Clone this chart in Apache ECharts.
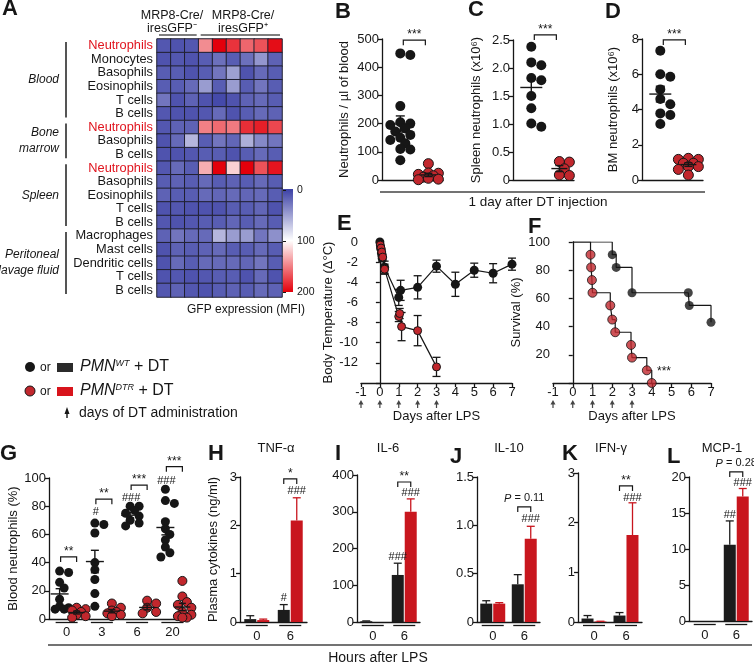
<!DOCTYPE html>
<html>
<head>
<meta charset="utf-8">
<title>Neutrophil depletion figure</title>
<script src="https://cdn.jsdelivr.net/npm/echarts@6/dist/echarts.min.js"></script>
<style>
html,body{margin:0;padding:0;background:#ffffff;}
#chart{width:754px;height:664px;}
</style>
</head>
<body>
<div id="chart"></div>
<script>
// ================= DATA =================
// Panel A heatmap (GFP MFI)
const heatColumns = ['GFP- 1','GFP- 2','GFP- 3','GFP+ 1','GFP+ 2','GFP+ 3','GFP+ 4','GFP+ 5','GFP+ 6'];
const heatRows = ['Neutrophils','Monocytes','Basophils','Eosinophils','T cells','B cells',
  'Neutrophils','Basophils','B cells',
  'Neutrophils','Basophils','Eosinophils','T cells','B cells',
  'Macrophages','Mast cells','Dendritic cells','T cells','B cells'];
const heatValues = [
  [12, 10, 12, 145, 200, 180, 160, 168, 195],
  [10, 12, 10, 15, 25, 15, 25, 45, 18],
  [15, 15, 10, 15, 28, 50, 10, 22, 15],
  [15, 15, 22, 48, 15, 48, 15, 28, 15],
  [28, 10, 18, 10, 5, 10, 18, 22, 15],
  [12, 10, 10, 12, 22, 10, 15, 22, 18],
  [12, 18, 18, 150, 158, 152, 182, 188, 172],
  [10, 22, 62, 15, 28, 20, 58, 38, 28],
  [10, 10, 12, 15, 15, 10, 15, 22, 15],
  [12, 22, 15, 132, 200, 118, 200, 168, 192],
  [15, 18, 15, 22, 15, 18, 15, 22, 15],
  [18, 15, 15, 22, 20, 22, 20, 22, 15],
  [10, 12, 10, 10, 10, 15, 15, 20, 10],
  [12, 10, 12, 15, 15, 20, 15, 22, 15],
  [18, 28, 22, 22, 62, 48, 48, 28, 42],
  [10, 18, 15, 18, 22, 15, 15, 22, 15],
  [10, 22, 15, 22, 22, 22, 20, 28, 15],
  [10, 12, 10, 12, 15, 15, 10, 22, 10],
  [12, 18, 12, 10, 15, 18, 15, 22, 18]
];
const tissues = [
  {label: 'Blood', from: 0, to: 6},
  {label: 'Bone\nmarrow', from: 6, to: 9},
  {label: 'Spleen', from: 9, to: 14},
  {label: 'Peritoneal\nlavage fluid', from: 14, to: 19}
];
const headerGroups = [
  {lines: 'MRP8-Cre/\niresGFP⁻', from: 0, to: 3},
  {lines: 'MRP8-Cre/\niresGFP⁺', from: 3, to: 9}
];
const colorbarTicks = [0, 100, 200];

// Panels B-D (1 day after DT)
const B_WT  = [449, 443, 262, 205, 200, 195, 183, 172, 160, 150, 142, 130, 110, 108, 70];
const B_DTR = [58, 25, 24, 20, 15, 10, 6, 3, 1];
const C_WT  = [2.38, 2.1, 2.05, 1.82, 1.78, 1.5, 1.28, 0.95, 1.01];
const C_DTR = [0.33, 0.32, 0.2, 0.09, 0.08];
const D_WT  = [7.33, 6.0, 5.86, 5.14, 4.6, 3.78, 3.69, 3.18, 4.3];
const D_DTR = [1.23, 1.17, 1.17, 0.95, 0.95, 0.76, 0.76, 0.6, 0.28];

// Panel E body temperature
const E_WT_day  = [0, 0.04, 0.08, 0.12, 0.25, 1, 1.1, 2, 3, 4, 5, 6, 7];
const E_WT_temp = [0, -0.6, -1.1, -1.6, -2.5, -5.5, -4.8, -4.5, -2.4, -4.2, -2.8, -3.1, -2.2];
const E_WT_sem  = [0, 0.2, 0.3, 0.3, 0.6, 0.8, 1.0, 1.15, 0.6, 1.2, 0.7, 0.95, 0.6];
const E_DTR_day  = [0.02, 0.06, 0.1, 0.15, 0.25, 1, 1.05, 1.15, 2, 3];
const E_DTR_temp = [-0.3, -0.6, -1.0, -1.5, -2.7, -7.4, -7.1, -8.4, -8.8, -12.4];
const E_DTR_sem  = [0.1, 0.2, 0.3, 0.3, 0.5, 0.5, 0.5, 1.4, 1.5, 0.95];
const DT_days = [-1, 0, 1, 2, 3];

// Panel F survival (Kaplan-Meier steps)
const F_WT_t  = [0, 2, 2.2, 3, 5.85, 5.9, 7];
const F_WT_s  = [100, 91, 82, 64, 64, 55, 43];
const F_DTR_t = [0, 0.9, 0.93, 0.97, 1.0, 1.9, 2.0, 2.15, 2.95, 3.0, 3.75, 4.0];
const F_DTR_s = [100, 91, 82, 73, 64, 55, 45, 36, 27, 18, 9, 0];

// Panel G blood neutrophils (%)
const G_hours = ['0', '3', '6', '20'];
const G_WT  = [[34, 33, 26, 22, 14, 9, 8, 7, 7], [67, 68, 61, 40, 35, 28, 18, 9], [80, 80, 77, 75, 73, 70, 68, 66], [92, 82, 84, 69, 64, 60, 56, 51, 47, 44]];
const G_DTR = [[8, 7, 6, 5, 3, 2, 1], [11, 8, 6, 5, 4, 3, 2], [13, 11, 8, 5, 4], [27, 16, 12, 10, 8, 5, 3, 2, 1, 1]];

// Panels H-L plasma cytokines (mean, SEM)
const cytoHours = ['0', '6'];
const TNF_WT = [0.06, 0.25],  TNF_WT_err = [0.07, 0.11],  TNF_DTR = [0.04, 2.1],  TNF_DTR_err = [0.02, 0.47];
const IL6_WT = [2, 128],      IL6_WT_err = [1, 32],        IL6_DTR = [0, 300],     IL6_DTR_err = [0, 35];
const IL10_WT = [0.19, 0.39], IL10_WT_err = [0.03, 0.1],   IL10_DTR = [0.19, 0.86], IL10_DTR_err = [0.01, 0.13];
const IFN_WT = [0.07, 0.13],  IFN_WT_err = [0.06, 0.06],   IFN_DTR = [0.01, 1.75], IFN_DTR_err = [0.005, 0.65];
const MCP_WT = [0, 10.6],     MCP_WT_err = [0, 3.3],       MCP_DTR = [0, 17.3],    MCP_DTR_err = [0, 1.1];

// Significance annotations (labels)
const sigB = [{kind: 'br', g: 0, y: 496, text: '***'}];
const sigC = [{kind: 'br', g: 0, y: 2.59, text: '***'}];
const sigD = [{kind: 'br', g: 0, y: 7.95, text: '***'}];
const sigG = [
  {kind: 'br', g: 0, y: 44, text: '**'}, {kind: 'br', g: 1, y: 85, text: '**'},
  {kind: 'br', g: 2, y: 95, text: '***'}, {kind: 'br', g: 3, y: 108, text: '***'},
  {kind: 'tx', g: 1, side: 'wt', y: 76, text: '#'}, {kind: 'tx', g: 2, side: 'wt', y: 86, text: '###'},
  {kind: 'tx', g: 3, side: 'wt', y: 98, text: '###'}
];
const sigH = [{kind: 'br', g: 1, y: 2.96, text: '*'}, {kind: 'tx', g: 1, side: 'wt', y: 0.5, text: '#'}, {kind: 'tx', g: 1, side: 'dtr', y: 2.72, text: '###'}];
const sigI = [{kind: 'br', g: 1, y: 381, text: '**'}, {kind: 'tx', g: 1, side: 'wt', y: 177, text: '###'}, {kind: 'tx', g: 1, side: 'dtr', y: 350, text: '###'}];
const sigJ = [{kind: 'br', g: 1, y: 1.19, text: '{i|P} = 0.11', small: true}, {kind: 'tx', g: 1, side: 'dtr', y: 1.065, text: '###'}];
const sigK = [{kind: 'br', g: 1, y: 2.74, text: '**'}, {kind: 'tx', g: 1, side: 'dtr', y: 2.5, text: '###'}];
const sigL = [{kind: 'br', g: 1, y: 20.7, text: '{i|P} = 0.28', small: true}, {kind: 'tx', g: 1, side: 'wt', y: 14.7, text: '##'}, {kind: 'tx', g: 1, side: 'dtr', y: 19.2, text: '###'}];

// ================= STYLE / HELPERS =================
const FONT = "'Liberation Sans', Arial, Helvetica, sans-serif";
const INK = '#161616';
const BAR_BLACK = '#1c1c1c';
const BAR_RED = '#c8161e';
const DOT_RED = '#c1272d';
const HEAT_BLUE = '#3b40a5';
const HEAT_RED = '#e3000b';
const NEUT_RED = '#e0141e';

const chart = echarts.init(document.getElementById('chart'), null, {renderer: 'canvas'});

const grids = [], xAxes = [], yAxes = [], series = [], graphics = [];

function merge(a, b) {
  for (const k in b) {
    const v = b[k];
    if (v && typeof v === 'object' && !Array.isArray(v) && typeof v !== 'function' && a[k] && typeof a[k] === 'object') merge(a[k], v);
    else a[k] = v;
  }
  return a;
}
function baseAxis() {
  return {
    splitLine: {show: false},
    axisLine: {show: true, lineStyle: {color: INK, width: 1.3}},
    axisTick: {show: true, length: 4, lineStyle: {color: INK, width: 1.3}},
    axisLabel: {color: INK, fontSize: 13, fontFamily: FONT, margin: 3},
    nameTextStyle: {color: INK, fontSize: 13, fontFamily: FONT}
  };
}
function yAx(gi, o) { return merge(merge(baseAxis(), {gridIndex: gi, type: 'value', nameLocation: 'middle', nameRotate: 90}), o); }
function xAx(gi, o) { return merge(merge(baseAxis(), {gridIndex: gi}), o); }
function ln(x1, y1, x2, y2, st) { return {type: 'line', shape: {x1, y1, x2, y2}, style: st}; }

function meanSem(vals) {
  const n = vals.length;
  const m = vals.reduce((a, b) => a + b, 0) / n;
  const sd = Math.sqrt(vals.reduce((a, b) => a + (b - m) * (b - m), 0) / (n - 1));
  return [m, sd / Math.sqrt(n)];
}
// deterministic, bounded beeswarm offsets in pixels (overlap allowed when crowded)
function swarm(vals, pxPerUnit, minDist, step, maxK) {
  const order = vals.map((v, i) => i).sort((a, b) => vals[b] - vals[a]);
  const placed = [], off = vals.map(() => 0);
  order.forEach(i => {
    const py = vals[i] * pxPerUnit;
    let best = 0, bestScore = -1;
    for (let k = 0; k <= maxK; k++) {
      const dx = k === 0 ? 0 : (k % 2 ? 1 : -1) * Math.ceil(k / 2) * step;
      let dmin = Infinity;
      placed.forEach(p => { dmin = Math.min(dmin, Math.hypot(p.x - dx, p.y - py)); });
      if (dmin >= minDist) { best = dx; bestScore = dmin; break; }
      if (dmin > bestScore) { bestScore = dmin; best = dx; }
    }
    off[i] = best; placed.push({x: best, y: py});
  });
  return off;
}
function dotSeries(gi, x, vals, fill, size, pxPerUnit, baseOff, maxK) {
  const off = swarm(vals, pxPerUnit, size * 0.75, size * 0.5, maxK);
  return {
    type: 'scatter', xAxisIndex: gi, yAxisIndex: gi, z: 4, symbolSize: size, silent: true,
    itemStyle: {color: fill, borderColor: INK, borderWidth: fill === INK ? 0 : 1, opacity: 1},
    data: vals.map((v, i) => ({value: [x, v], symbolOffset: [baseOff + off[i], 0]}))
  };
}
function meanSemSeries(gi, x, vals, pxOff, meanW, capW) {
  const ms = meanSem(vals);
  return {
    type: 'custom', xAxisIndex: gi, yAxisIndex: gi, z: 6, silent: true, clip: false,
    data: [[x, ms[0], ms[1]]],
    renderItem: (p, api) => {
      const xv = api.value(0), m = api.value(1), s = api.value(2);
      const c = api.coord([xv, m]), t = api.coord([xv, m + s]), b = api.coord([xv, m - s]);
      const X = c[0] + pxOff, st = {stroke: INK, lineWidth: 1.4};
      return {type: 'group', children: [
        ln(X - meanW / 2, c[1], X + meanW / 2, c[1], st), ln(X, t[1], X, b[1], st),
        ln(X - capW / 2, t[1], X + capW / 2, t[1], st), ln(X - capW / 2, b[1], X + capW / 2, b[1], st)]};
    }
  };
}
function annotSeries(gi, items, posFn) {
  return {
    type: 'custom', xAxisIndex: gi, yAxisIndex: gi, z: 7, silent: true, clip: false,
    data: items.map((a, i) => [i, a.y]),
    renderItem: (p, api) => {
      const a = items[p.dataIndex];
      if (a.kind === 'br') {
        const w = posFn(a.g, 'wt'), d = posFn(a.g, 'dtr');
        const p1 = api.coord([w[0], a.y]), p2 = api.coord([d[0], a.y]);
        const x1 = p1[0] + w[1], x2 = p2[0] + d[1], y = p1[1];
        const st = {stroke: INK, lineWidth: 1.2, fill: null};
        return {type: 'group', children: [
          {type: 'polyline', shape: {points: [[x1, y + 5], [x1, y], [x2, y], [x2, y + 5]]}, style: st},
          {type: 'text', x: (x1 + x2) / 2, y: a.small ? y - 3 : y + 1, style: {
            text: a.text, fill: INK, font: (a.small ? '11px ' : '12px ') + FONT,
            align: 'center', verticalAlign: 'bottom',
            rich: {i: {fontStyle: 'italic', fontSize: 11, fontFamily: FONT, fill: INK}}}}
        ]};
      }
      const q = posFn(a.g, a.side);
      const c = api.coord([q[0], a.y]);
      return {type: 'text', x: c[0] + q[1], y: c[1], style: {
        text: a.text, fill: INK, font: '11px ' + FONT, align: 'center', verticalAlign: 'middle'}};
    }
  };
}
function underlineSeries(gi, nCat, yMin, halfW) {
  return {
    type: 'custom', xAxisIndex: gi, yAxisIndex: gi, z: 3, silent: true, clip: false,
    data: Array.from({length: nCat}, (_, i) => [i, yMin]),
    renderItem: (p, api) => {
      const c = api.coord([api.value(0), api.value(1)]);
      return ln(c[0] - halfW, c[1] + 3.5, c[0] + halfW, c[1] + 3.5, {stroke: INK, lineWidth: 1.3});
    }
  };
}
function errSeries(gi, xs, ys, es, color, capW) {
  return {
    type: 'custom', xAxisIndex: gi, yAxisIndex: gi, z: 3, silent: true, clip: false,
    data: xs.map((x, i) => [x, ys[i], es[i]]),
    renderItem: (p, api) => {
      const x = api.value(0), y = api.value(1), e = api.value(2);
      if (!e) return null;
      const t = api.coord([x, y + e]), b = api.coord([x, y - e]);
      const st = {stroke: color, lineWidth: 1.3};
      return {type: 'group', children: [
        ln(t[0], t[1], b[0], b[1], st),
        ln(t[0] - capW / 2, t[1], t[0] + capW / 2, t[1], st),
        ln(b[0] - capW / 2, b[1], b[0] + capW / 2, b[1], st)]};
    }
  };
}
function barErrSeries(gi, vals, errs, pxOff, color) {
  return {
    type: 'custom', xAxisIndex: gi, yAxisIndex: gi, z: 3, silent: true, clip: false,
    data: vals.map((v, i) => [i, v, errs[i]]),
    renderItem: (p, api) => {
      const i = api.value(0), v = api.value(1), e = api.value(2);
      if (!e) return null;
      const c = api.coord([i, v]), t = api.coord([i, v + e]);
      const X = c[0] + pxOff, st = {stroke: color, lineWidth: 1.3};
      return {type: 'group', children: [ln(X, c[1], X, t[1], st), ln(X - 4, t[1], X + 4, t[1], st)]};
    }
  };
}
function addGrid(r) { grids.push(Object.assign({containLabel: false}, r)); return grids.length - 1; }

// ================= PANEL A: HEATMAP =================
const RA = {left: 157, top: 39, width: 125, height: 258};
const gA = addGrid(RA);
xAxes.push({gridIndex: gA, type: 'category', data: heatColumns, show: false});
yAxes.push({gridIndex: gA, type: 'category', inverse: true, data: heatRows.map((r, i) => 'r' + i),
  axisLine: {show: false}, axisTick: {show: false}, splitLine: {show: false},
  axisLabel: {interval: 0, margin: 4, color: INK, fontSize: 12.8, fontFamily: FONT,
    formatter: (v, i) => heatRows[i] === 'Neutrophils' ? '{r|Neutrophils}' : heatRows[i],
    rich: {r: {color: NEUT_RED, fontSize: 12.8, fontFamily: FONT}}}});
const heatData = [];
heatValues.forEach((row, r) => row.forEach((v, c) => heatData.push([c, r, v])));
series.push({type: 'heatmap', xAxisIndex: gA, yAxisIndex: gA, data: heatData, silent: true,
  itemStyle: {borderColor: '#202030', borderWidth: 1}});

// colour bar axis
const RCB = {left: 283, top: 190, width: 10, height: 102};
const gCB = addGrid(RCB);
xAxes.push({gridIndex: gCB, type: 'value', show: false, min: 0, max: 1});
yAxes.push(yAx(gCB, {min: colorbarTicks[0], max: colorbarTicks[colorbarTicks.length - 1], interval: 100, inverse: true, position: 'right',
  axisLine: {show: false}, axisTick: {length: 3, lineStyle: {width: 1}}, axisLabel: {fontSize: 10.5, margin: 4}}));

// ================= PANELS B, C, D =================
const dotPanels = [
  {r: {left: 382, top: 39, width: 61, height: 141}, min: 0, max: 500, interval: 100, wt: B_WT, dtr: B_DTR, name: 'Neutrophils / µl of blood', gap: 31, fmt: v => v, sig: sigB},
  {r: {left: 513, top: 40, width: 61, height: 140}, min: 0, max: 2.5, interval: 0.5, wt: C_WT, dtr: C_DTR, name: 'Spleen neutrophils (x10⁶)', gap: 30, fmt: v => v === 0 ? '0' : v.toFixed(1), sig: sigC},
  {r: {left: 642, top: 39, width: 61, height: 141}, min: 0, max: 8, interval: 2, wt: D_WT, dtr: D_DTR, name: 'BM neutrophils (x10⁶)', gap: 22, fmt: v => v, sig: sigD}
];
const dotX = {wt: 0.3, dtr: 0.76};
dotPanels.forEach(P => {
  const gi = addGrid(P.r);
  xAxes.push(xAx(gi, {type: 'value', min: 0, max: 1, axisTick: {show: false}, axisLabel: {show: false}}));
  yAxes.push(yAx(gi, {min: P.min, max: P.max, interval: P.interval, name: P.name, nameGap: P.gap, axisLabel: {formatter: P.fmt}}));
  const ppu = P.r.height / (P.max - P.min);
  series.push(dotSeries(gi, dotX.wt, P.wt, INK, 10, ppu, 0, 6));
  series.push(dotSeries(gi, dotX.dtr, P.dtr, DOT_RED, 10, ppu, 0, 4));
  series.push(meanSemSeries(gi, dotX.wt, P.wt, 0, 22, 9));
  series.push(meanSemSeries(gi, dotX.dtr, P.dtr, 0, 16, 8));
  series.push(annotSeries(gi, P.sig, (g, side) => side === 'wt' ? [dotX.wt, 3] : [dotX.dtr, -3]));
});

// ================= PANEL E =================
const arrowPath = 'path://M5,0 L10,9 L6.2,9 L6.2,16 L3.8,16 L3.8,9 L0,9 Z';
const RE = {left: 361, top: 242, width: 151, height: 141};
const gE = addGrid(RE);
xAxes.push(xAx(gE, {type: 'value', min: -1, max: 7, interval: 1, axisLine: {onZero: false},
  name: 'Days after LPS', nameLocation: 'middle', nameGap: 27}));
yAxes.push(yAx(gE, {min: -14, max: 0, interval: 2, axisLine: {onZero: true}, name: 'Body Temperature (Δ°C)', nameGap: 26,
  axisLabel: {formatter: v => v === -14 ? '' : String(v)}}));
series.push(errSeries(gE, E_WT_day, E_WT_temp, E_WT_sem, INK, 8));
series.push(errSeries(gE, E_DTR_day, E_DTR_temp, E_DTR_sem, INK, 8));
series.push({type: 'line', xAxisIndex: gE, yAxisIndex: gE, z: 4, silent: true, data: E_WT_day.map((d, i) => [d, E_WT_temp[i]]),
  symbol: 'circle', symbolSize: 9, itemStyle: {color: INK}, lineStyle: {color: INK, width: 1.2}});
series.push({type: 'line', xAxisIndex: gE, yAxisIndex: gE, z: 5, silent: true, data: E_DTR_day.map((d, i) => [d, E_DTR_temp[i]]),
  symbol: 'circle', symbolSize: 8, itemStyle: {color: DOT_RED, borderColor: INK, borderWidth: 1}, lineStyle: {color: INK, width: 1.2}});
series.push({type: 'scatter', xAxisIndex: gE, yAxisIndex: gE, clip: false, silent: true, data: DT_days.map(d => [d, -14]),
  symbol: arrowPath, symbolSize: [5, 8], symbolOffset: [0, 21], itemStyle: {color: INK}});

// ================= PANEL F =================
const RF = {left: 553, top: 242, width: 158, height: 141};
const gF = addGrid(RF);
xAxes.push(xAx(gF, {type: 'value', min: -1, max: 7, interval: 1, axisLine: {onZero: false},
  name: 'Days after LPS', nameLocation: 'middle', nameGap: 27}));
yAxes.push(yAx(gF, {min: 0, max: 100, interval: 20, axisLine: {onZero: true}, name: 'Survival (%)', nameGap: 30,
  axisLabel: {formatter: v => v === 0 ? '' : String(v)}}));
series.push({type: 'line', step: 'end', xAxisIndex: gF, yAxisIndex: gF, z: 3, silent: true, showSymbol: false, symbol: 'none',
  data: F_WT_t.map((t, i) => [t, F_WT_s[i]]), lineStyle: {color: INK, width: 1.2}});
series.push({type: 'line', step: 'end', xAxisIndex: gF, yAxisIndex: gF, z: 3, silent: true, showSymbol: false, symbol: 'none',
  data: F_DTR_t.map((t, i) => [t, F_DTR_s[i]]), lineStyle: {color: INK, width: 1.2}});
series.push({type: 'scatter', xAxisIndex: gF, yAxisIndex: gF, z: 4, silent: true, symbolSize: 9,
  data: F_WT_t.slice(1).map((t, i) => [t, F_WT_s[i + 1]]), itemStyle: {color: INK}});
series.push({type: 'scatter', xAxisIndex: gF, yAxisIndex: gF, z: 5, silent: true, symbolSize: 9, clip: false,
  data: F_DTR_t.slice(1).map((t, i) => [t, F_DTR_s[i + 1]]), itemStyle: {color: DOT_RED, borderColor: INK, borderWidth: 1}});
series.push({type: 'scatter', xAxisIndex: gF, yAxisIndex: gF, clip: false, silent: true, data: DT_days.map(d => [d, 0]),
  symbol: arrowPath, symbolSize: [5, 8], symbolOffset: [0, 21], itemStyle: {color: INK}});
graphics.push({type: 'text', x: 657, y: 372, style: {text: '***', fill: INK, font: '12px ' + FONT, align: 'left', verticalAlign: 'middle'}});

// ================= PANEL G =================
const RG = {left: 49, top: 478, width: 141, height: 141};
const gG = addGrid(RG);
xAxes.push(xAx(gG, {type: 'category', data: G_hours, axisTick: {show: false}, axisLabel: {margin: 7}}));
yAxes.push(yAx(gG, {min: 0, max: 100, interval: 20, name: 'Blood neutrophils (%)', nameGap: 24}));
const gOff = {wt: -7, dtr: 10};
G_WT.forEach((vals, g) => {
  series.push(dotSeries(gG, g, vals, INK, 9, RG.height / 100, gOff.wt, 3));
  series.push(meanSemSeries(gG, g, vals, gOff.wt, 18, 8));
});
G_DTR.forEach((vals, g) => {
  series.push(dotSeries(gG, g, vals, DOT_RED, 9, RG.height / 100, gOff.dtr, 3));
  series.push(meanSemSeries(gG, g, vals, gOff.dtr, 16, 7));
});
series.push(underlineSeries(gG, G_hours.length, 0, 11));
series.push(annotSeries(gG, sigG, (g, side) => [g, side === 'wt' ? gOff.wt + 1 : gOff.dtr]));

// ================= PANELS H - L =================
const barPanels = [
  {r: {left: 240, top: 477, width: 67, height: 145}, max: 3, interval: 1, wt: TNF_WT, wtE: TNF_WT_err, dtr: TNF_DTR, dtrE: TNF_DTR_err, sig: sigH, title: 'TNF-α', tx: 276, name: 'Plasma cytokines (ng/ml)', fmt: v => v},
  {r: {left: 357, top: 475, width: 63, height: 147}, max: 400, interval: 100, wt: IL6_WT, wtE: IL6_WT_err, dtr: IL6_DTR, dtrE: IL6_DTR_err, sig: sigI, title: 'IL-6', tx: 388, fmt: v => v},
  {r: {left: 477, top: 477, width: 63, height: 145}, max: 1.5, interval: 0.5, wt: IL10_WT, wtE: IL10_WT_err, dtr: IL10_DTR, dtrE: IL10_DTR_err, sig: sigJ, title: 'IL-10', tx: 509, fmt: v => v === 0 ? '0' : v.toFixed(1)},
  {r: {left: 578, top: 473, width: 64, height: 149}, max: 3, interval: 1, wt: IFN_WT, wtE: IFN_WT_err, dtr: IFN_DTR, dtrE: IFN_DTR_err, sig: sigK, title: 'IFN-γ', tx: 611, fmt: v => v},
  {r: {left: 689, top: 477, width: 63, height: 144}, max: 20, interval: 5, wt: MCP_WT, wtE: MCP_WT_err, dtr: MCP_DTR, dtrE: MCP_DTR_err, sig: sigL, title: 'MCP-1', tx: 722, fmt: v => v}
];
const bOff = 6.5;
barPanels.forEach(P => {
  const gi = addGrid(P.r);
  xAxes.push(xAx(gi, {type: 'category', data: cytoHours, axisTick: {show: false}, axisLabel: {margin: 8}}));
  const ya = {min: 0, max: P.max, interval: P.interval, axisLabel: {formatter: P.fmt}};
  if (P.name) { ya.name = P.name; ya.nameGap = 20; }
  yAxes.push(yAx(gi, ya));
  series.push({type: 'bar', xAxisIndex: gi, yAxisIndex: gi, data: P.wt, barWidth: 12, barGap: '8%', silent: true, itemStyle: {color: BAR_BLACK}, z: 2});
  series.push({type: 'bar', xAxisIndex: gi, yAxisIndex: gi, data: P.dtr, barWidth: 12, barGap: '8%', silent: true, itemStyle: {color: BAR_RED}, z: 2});
  series.push(barErrSeries(gi, P.wt, P.wtE, -bOff, BAR_BLACK));
  series.push(barErrSeries(gi, P.dtr, P.dtrE, bOff, BAR_RED));
  series.push(underlineSeries(gi, cytoHours.length, 0, 11));
  series.push(annotSeries(gi, P.sig, (g, side) => [g, side === 'wt' ? -bOff : bOff]));
  graphics.push({type: 'text', x: P.tx, y: 448, style: {text: P.title, fill: INK, font: '13px ' + FONT, align: 'center', verticalAlign: 'middle'}});
});

// ================= GRAPHICS (labels, legend, decorations) =================
[['A', 2, -2], ['B', 335, 1], ['C', 468, -1], ['D', 605, 1], ['E', 337, 213], ['F', 528, 216],
 ['G', 0, 443], ['H', 208, 443], ['I', 335, 443], ['J', 450, 446], ['K', 562, 443], ['L', 667, 446]].forEach(([t, x, y]) => {
  graphics.push({type: 'text', x, y, style: {text: t, fill: INK, font: 'bold 22px ' + FONT, align: 'left', verticalAlign: 'top'}});
});
const colW = RA.width / heatColumns.length;
const headerX = [172, 243];
headerGroups.forEach((h, i) => {
  graphics.push({type: 'text', x: headerX[i], y: 22, style: {text: h.lines, fill: INK, font: '12.5px ' + FONT, lineHeight: 13, align: 'center', verticalAlign: 'middle'}});
  graphics.push({type: 'line', shape: {x1: RA.left + h.from * colW + 2, y1: 35, x2: RA.left + h.to * colW - 2, y2: 35}, style: {stroke: '#555', lineWidth: 1.3}});
});
const rowH = RA.height / heatRows.length;
tissues.forEach(t => {
  const y1 = RA.top + t.from * rowH + 3, y2 = RA.top + t.to * rowH - 3;
  graphics.push({type: 'line', shape: {x1: 66, y1, x2: 66, y2}, style: {stroke: '#555', lineWidth: 2}});
  graphics.push({type: 'text', x: 59, y: (y1 + y2) / 2, style: {text: t.label, fill: INK, font: 'italic 12px ' + FONT, lineHeight: 16, align: 'right', verticalAlign: 'middle'}});
});
graphics.push({type: 'rect', shape: {x: RCB.left, y: RCB.top - 1, width: RCB.width, height: RCB.height + 1},
  style: {fill: new echarts.graphic.LinearGradient(0, 0, 0, 1, [{offset: 0, color: HEAT_BLUE}, {offset: 0.5, color: '#ffffff'}, {offset: 1, color: HEAT_RED}])}});
graphics.push({type: 'text', x: 246, y: 310, style: {text: 'GFP expression (MFI)', fill: INK, font: '12px ' + FONT, align: 'center', verticalAlign: 'middle'}});
graphics.push({type: 'line', shape: {x1: 380, y1: 192, x2: 705, y2: 192}, style: {stroke: '#444', lineWidth: 1.3}});
graphics.push({type: 'text', x: 538, y: 202, style: {text: '1 day after DT injection', fill: INK, font: '13.5px ' + FONT, align: 'center', verticalAlign: 'middle'}});
graphics.push({type: 'line', shape: {x1: 48, y1: 645, x2: 752, y2: 645}, style: {stroke: '#444', lineWidth: 1.3}});
graphics.push({type: 'text', x: 378, y: 658, style: {text: 'Hours after LPS', fill: INK, font: '14px ' + FONT, align: 'center', verticalAlign: 'middle'}});
const legRich = {
  i: {fontStyle: 'italic', fontSize: 16, fontFamily: FONT, fill: INK},
  s: {fontStyle: 'italic', fontSize: 9, fontFamily: FONT, fill: INK, verticalAlign: 'top'},
  n: {fontSize: 16, fontFamily: FONT, fill: INK}
};
graphics.push({type: 'circle', shape: {cx: 30, cy: 367, r: 5}, style: {fill: INK}});
graphics.push({type: 'text', x: 40, y: 368, style: {text: 'or', fill: INK, font: '12px ' + FONT, verticalAlign: 'middle'}});
graphics.push({type: 'rect', shape: {x: 57, y: 363, width: 16, height: 9}, style: {fill: '#2b2b2b'}});
graphics.push({type: 'text', x: 80, y: 367, style: {text: '{i|PMN}{s|WT}{n| + DT}', rich: legRich, verticalAlign: 'middle'}});
graphics.push({type: 'circle', shape: {cx: 30, cy: 391, r: 5}, style: {fill: DOT_RED, stroke: INK, lineWidth: 1}});
graphics.push({type: 'text', x: 40, y: 392, style: {text: 'or', fill: INK, font: '12px ' + FONT, verticalAlign: 'middle'}});
graphics.push({type: 'rect', shape: {x: 57, y: 387, width: 16, height: 9}, style: {fill: '#d8141c'}});
graphics.push({type: 'text', x: 80, y: 391, style: {text: '{i|PMN}{s|DTR}{n| + DT}', rich: legRich, verticalAlign: 'middle'}});
graphics.push({type: 'polygon', shape: {points: [[64.5, 414], [67, 407], [69.5, 414], [67.7, 414], [67.7, 418], [66.3, 418], [66.3, 414]]}, style: {fill: INK}});
graphics.push({type: 'text', x: 79, y: 413, style: {text: 'days of DT administration', fill: INK, font: '14px ' + FONT, verticalAlign: 'middle'}});

chart.setOption({
  animation: false,
  backgroundColor: '#ffffff',
  textStyle: {fontFamily: FONT},
  grid: grids,
  xAxis: xAxes,
  yAxis: yAxes,
  visualMap: [{type: 'continuous', min: 0, max: 200, show: false, seriesIndex: 0, inRange: {color: [HEAT_BLUE, '#ffffff', HEAT_RED]}}],
  series: series,
  graphic: graphics
});
</script>
</body>
</html>
